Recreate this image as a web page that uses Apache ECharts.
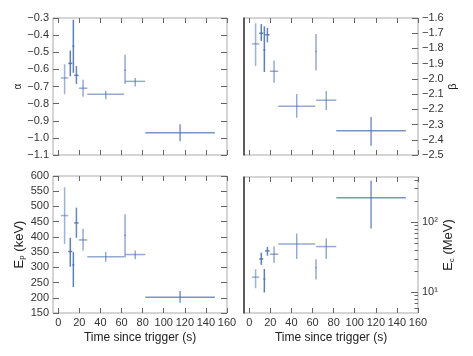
<!DOCTYPE html>
<html>
<head>
<meta charset="utf-8">
<script src="https://cdn.jsdelivr.net/npm/echarts@6/dist/echarts.min.js"></script>
<style>
  html, body { margin: 0; padding: 0; background: #fff; }
  #main { width: 473px; height: 356px; }
</style>
</head>
<body>
<div id="main"></div>
<script>
// time bins (s): centre and half width
var tMid = [6.0, 11.4, 14.3, 17.2, 23.5, 45.0, 63.3, 73.0, 115.5];
var tErr = [3.5, 1.9, 0.9, 2.1, 4.0, 17.5, 0.7, 9.5, 33.0];

// alpha
var alphaVal = [-0.65, -0.565, -0.465, -0.635, -0.71, -0.745, -0.605, -0.67, -0.97];
var alphaLo  = [-0.745, -0.64, -0.62, -0.685, -0.76, -0.775, -0.685, -0.70, -1.02];
var alphaHi  = [-0.57, -0.49, -0.31, -0.58, -0.66, -0.725, -0.515, -0.65, -0.92];

// beta
var betaVal = [-1.77, -1.70, -1.81, -1.71, -1.95, -2.18, -1.82, -2.14, -2.34];
var betaLo  = [-1.915, -1.75, -1.955, -1.76, -2.025, -2.255, -1.945, -2.205, -2.44];
var betaHi  = [-1.635, -1.64, -1.655, -1.665, -1.88, -2.10, -1.705, -2.08, -2.25];

// Ep (keV)
var epVal = [470, 352, 308, 446, 390, 335, 405, 342, 202];
var epLo  = [377, 302, 235, 397, 355, 318, 332, 327, 184];
var epHi  = [563, 397, 350, 496, 427, 351, 474, 355, 222];

// Ec (MeV)
var ecVal = [16.5, 30, 15.5, 39, 35, 49, 22.5, 45, 223];
var ecLo  = [11.5, 24.7, 10, 33.3, 26.5, 30, 15.3, 30, 81.5];
var ecHi  = [21.4, 36.8, 21.6, 44.3, 45, 69, 29.7, 59, 393];

// tick values
var xTicks = [0, 20, 40, 60, 80, 100, 120, 140, 160];
var alphaTicks = [-1.1, -1.0, -0.9, -0.8, -0.7, -0.6, -0.5, -0.4, -0.3];
var betaTicks = [-2.5, -2.4, -2.3, -2.2, -2.1, -2.0, -1.9, -1.8, -1.7, -1.6];
var epTicks = [150, 200, 250, 300, 350, 400, 450, 500, 550, 600];
var ecTicks = [10, 100];
var ecMinorTicks = [6, 7, 8, 9, 20, 30, 40, 50, 60, 70, 80, 90, 200, 300, 400];

var blue = '#4c72b0';
var pointOpacity = [0.55, 0.9, 0.9, 0.85, 0.6, 0.6, 0.6, 0.6, 0.75];
var font = 'Liberation Sans';

function rows(val, lo, hi) {
    var out = [];
    for (var i = 0; i < tMid.length; i++) {
        out.push([tMid[i], tErr[i], val[i], lo[i], hi[i], i]);
    }
    return out;
}

function renderErr(params, api) {
    var t = api.value(0), dt = api.value(1), v = api.value(2);
    var lo = api.value(3), hi = api.value(4);
    var a = api.coord([t - dt, v]), b = api.coord([t + dt, v]);
    var c = api.coord([t, lo]), d = api.coord([t, hi]);
    var st = { stroke: blue, lineWidth: 1.5, opacity: pointOpacity[api.value(5)] };
    return {
        type: 'group',
        children: [
            { type: 'line', shape: { x1: a[0], y1: a[1], x2: b[0], y2: b[1] }, style: st },
            { type: 'line', shape: { x1: c[0], y1: c[1], x2: d[0], y2: d[1] }, style: st }
        ]
    };
}

function minus(v, d) {
    return v.toFixed(d).replace('-', '\u2212');
}

var grids = [
    { left: 53, top: 18, width: 174, height: 137 },
    { left: 244, top: 18, width: 174, height: 137 },
    { left: 53, top: 176, width: 174, height: 137 },
    { left: 244, top: 177, width: 174, height: 136 }
];
grids.forEach(function (g) {
    g.show = true;
    g.borderColor = '#aaaaaa';
    g.borderWidth = 1;
    g.backgroundColor = '#fff';
});

function xAx(gi, pos, labels) {
    return {
        type: 'value', gridIndex: gi, position: pos, min: -5, max: 160,
        axisLine: { show: false, onZero: false },
        splitLine: { show: false },
        axisTick: { show: true, inside: true, length: 5, customValues: xTicks,
            lineStyle: { color: '#666' } },
        axisLabel: { show: labels, customValues: xTicks, margin: 4, fontSize: 11,
            fontFamily: font, color: '#333' },
        name: labels ? 'Time since trigger (s)' : '',
        nameLocation: 'middle', nameGap: 19,
        nameTextStyle: { fontSize: 12, fontFamily: font, color: '#222' }
    };
}

var xAxes = [];
for (var g = 0; g < 4; g++) xAxes.push(xAx(g, 'bottom', g >= 2));
for (var g2 = 0; g2 < 4; g2++) xAxes.push(xAx(g2, 'top', false));

function yAx(gi, pos, opt) {
    var ax = {
        type: opt.type || 'value', gridIndex: gi, position: pos,
        min: opt.min, max: opt.max,
        axisLine: { show: !!opt.line, onZero: false, lineStyle: { color: '#333', width: 1.5 } },
        splitLine: { show: false },
        minorTick: { show: false },
        axisTick: { show: !!opt.ticks, inside: true, length: opt.tickLen || 6,
            customValues: opt.ticks, lineStyle: { color: '#666' } },
        axisLabel: { show: !!opt.labels, customValues: opt.ticks, margin: 4,
            fontSize: 11, fontFamily: font, color: '#333', formatter: opt.fmt },
        name: opt.name || '', nameLocation: 'middle', nameGap: opt.gap || 30,
        nameRotate: 90,
        nameTextStyle: { fontSize: opt.nameSize || 12, fontFamily: font, color: '#222',
            rich: {
                sub: { fontSize: 8, fontFamily: font, color: '#222', padding: [6, 0, 0, 0] },
                txt: { fontSize: opt.nameSize || 12, fontFamily: font, color: '#222' }
            } }
    };
    if (opt.type === 'log') ax.logBase = 10;
    return ax;
}

var yAxes = [
    // labelled axes
    yAx(0, 'left', { min: -1.1, max: -0.3, ticks: alphaTicks, labels: true,
        fmt: function (v) { return minus(v, 1); }, name: '\u03b1', gap: 29, nameSize: 10 }),
    yAx(1, 'right', { min: -2.5, max: -1.6, ticks: betaTicks, labels: true,
        fmt: function (v) { return minus(v, 1); }, name: '\u03b2', gap: 29, nameSize: 11 }),
    yAx(2, 'left', { min: 150, max: 600, ticks: epTicks, labels: true,
        fmt: function (v) { return String(v); },
        name: '{txt|E}{sub|p}{txt| (keV)}', gap: 27, nameSize: 13 }),
    yAx(3, 'right', { type: 'log', min: 5.1, max: 440, ticks: ecTicks, labels: true, tickLen: 7,
        fmt: function (v) { return Math.round(Math.log10(v)) === 1 ? '10\u00b9' : '10\u00b2'; },
        name: '{txt|E}{sub|c}{txt| (MeV)}', gap: 20, nameSize: 13 }),
    // tick-only mirrors on left panels
    yAx(0, 'right', { min: -1.1, max: -0.3, ticks: alphaTicks }),
    yAx(2, 'right', { min: 150, max: 600, ticks: epTicks }),
    // dark left spine on right panels
    yAx(1, 'left', { min: 0, max: 1, line: true }),
    yAx(3, 'left', { min: 0, max: 1, line: true }),
    // minor ticks on log axis
    yAx(3, 'right', { type: 'log', min: 5.1, max: 440, ticks: ecMinorTicks, tickLen: 3.5 })
];

var series = [
    { type: 'custom', xAxisIndex: 0, yAxisIndex: 0, renderItem: renderErr, data: rows(alphaVal, alphaLo, alphaHi) },
    { type: 'custom', xAxisIndex: 1, yAxisIndex: 1, renderItem: renderErr, data: rows(betaVal, betaLo, betaHi) },
    { type: 'custom', xAxisIndex: 2, yAxisIndex: 2, renderItem: renderErr, data: rows(epVal, epLo, epHi) },
    { type: 'custom', xAxisIndex: 3, yAxisIndex: 3, renderItem: renderErr, data: rows(ecVal, ecLo, ecHi) }
];
series.forEach(function (s) { s.animation = false; s.silent = true; });

var chart = echarts.init(document.getElementById('main'), null, { renderer: 'canvas' });
chart.setOption({
    animation: false,
    backgroundColor: '#fff',
    grid: grids,
    xAxis: xAxes,
    yAxis: yAxes,
    series: series
});
</script>
</body>
</html>
